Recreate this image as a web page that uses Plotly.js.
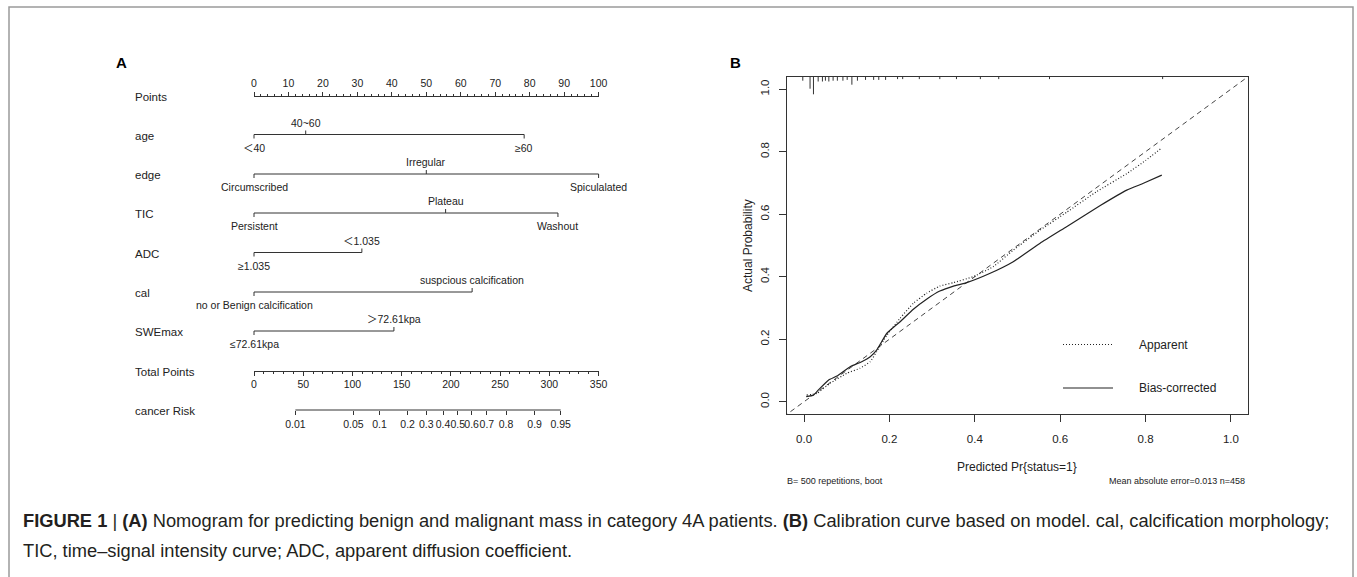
<!DOCTYPE html>
<html>
<head>
<meta charset="utf-8">
<script src="https://cdn.plot.ly/plotly-3.0.1.min.js"></script>
<style>html,body{margin:0;padding:0;background:#fff;}#chart{width:1357px;height:577px;}</style>
</head>
<body>
<div id="chart"></div>
<script>
// ---------------- DATA ----------------
// Nomogram (panel A)
const pointsTicks = [0, 10, 20, 30, 40, 50, 60, 70, 80, 90, 100];
const variableNames = ['age', 'edge', 'TIC', 'ADC', 'cal', 'SWEmax'];
const ageLabels = ['＜40', '40~60', '≥60'];
const agePoints = [0, 15, 78.4];
const edgeLabels = ['Circumscribed', 'Irregular', 'Spiculalated'];
const edgePoints = [0, 50, 100];
const ticLabels = ['Persistent', 'Plateau', 'Washout'];
const ticPoints = [0, 55.6, 88.2];
const adcLabels = ['≥1.035', '＜1.035'];
const adcPoints = [0, 31.3];
const calLabels = ['no or Benign calcification', 'suspcious calcification'];
const calPoints = [0, 63.3];
const sweLabels = ['≤72.61kpa', '＞72.61kpa'];
const swePoints = [0, 40.6];
const totalPointsTicks = [0, 50, 100, 150, 200, 250, 300, 350];
const riskLabels = ['0.01', '0.05', '0.1', '0.2', '0.3', '0.4', '0.5', '0.6', '0.7', '0.8', '0.9', '0.95'];
const riskTotalPoints = [42, 101, 127.5, 156, 175, 192, 207, 221, 236.5, 256, 285, 311.5];

// Calibration (panel B)
const apparentX = [0.006, 0.030, 0.061, 0.100, 0.131, 0.155, 0.170, 0.194, 0.225, 0.256, 0.287, 0.318, 0.350, 0.396, 0.443, 0.490, 0.553, 0.615, 0.685, 0.756, 0.800, 0.838];
const apparentY = [0.021, 0.027, 0.059, 0.091, 0.107, 0.128, 0.160, 0.213, 0.267, 0.315, 0.347, 0.370, 0.381, 0.400, 0.432, 0.485, 0.549, 0.606, 0.672, 0.730, 0.772, 0.812];
const biasX = [0.005, 0.022, 0.033, 0.057, 0.077, 0.108, 0.135, 0.155, 0.170, 0.194, 0.225, 0.256, 0.287, 0.318, 0.350, 0.381, 0.436, 0.490, 0.553, 0.615, 0.693, 0.756, 0.795, 0.838];
const biasY = [0.016, 0.021, 0.037, 0.069, 0.082, 0.112, 0.128, 0.144, 0.165, 0.219, 0.256, 0.296, 0.328, 0.354, 0.370, 0.381, 0.411, 0.448, 0.507, 0.560, 0.627, 0.677, 0.699, 0.725];
const rugX = [-0.003, 0.014, 0.022, 0.033, 0.043, 0.050, 0.058, 0.068, 0.078, 0.091, 0.101, 0.112, 0.125, 0.144, 0.163, 0.175, 0.191, 0.219, 0.231, 0.270, 0.318, 0.357, 0.413, 0.456, 0.575, 0.840];
const rugFreq = [1, 3, 4.4, 1.2, 1.2, 1, 1.2, 1, 1, 1, 0.8, 2, 1, 0.8, 0.8, 0.8, 0.8, 0.6, 0.6, 0.6, 0.6, 0.6, 0.6, 0.6, 0.6, 0.6];
const calTicks = [0, 0.2, 0.4, 0.6, 0.8, 1.0];

// ---------------- LAYOUT HELPERS ----------------
const W = 1357, H = 577;
const P0 = 254, P100 = 598.6;           // pixel x of 0 and 100 points
const ppp = (P100 - P0) / 100;          // pixels per point
const FONT = 'Liberation Sans, Arial, Noto Sans CJK SC, sans-serif';
const INK = '#222';
const LINE = '#333';
const px = v => v / W;
const py = v => 1 - v / H;

const rowY = {Points: 95.5, age: 134.5, edge: 174, TIC: 213, ADC: 252.5, cal: 292, SWEmax: 331, Total: 370.5, Risk: 410};
const varLabels = {age: ageLabels, edge: edgeLabels, TIC: ticLabels, ADC: adcLabels, cal: calLabels, SWEmax: sweLabels};
const varPoints = {age: agePoints, edge: edgePoints, TIC: ticPoints, ADC: adcPoints, cal: calPoints, SWEmax: swePoints};

const traces = [];
const annotations = [];
const shapes = [];

// nomogram variable rows
variableNames.forEach(name => {
  const pts = varPoints[name], labs = varLabels[name], y0 = rowY[name];
  const xs = [0, Math.max(...pts), null], ys = [y0, y0, null];
  pts.forEach((p, i) => {
    const above = i % 2 === 1;
    xs.push(p, p, null);
    ys.push(y0, y0 + (above ? -4 : 4), null);
    annotations.push({xref: 'x', yref: 'y', x: p, y: y0 + (above ? -12 : 13), text: labs[i], showarrow: false,
      xanchor: 'center', yanchor: 'middle', font: {family: FONT, size: 10.5, color: INK}});
  });
  traces.push({x: xs, y: ys, xaxis: 'x', yaxis: 'y', mode: 'lines', line: {color: LINE, width: 1}, hoverinfo: 'skip', showlegend: false});
});

// left row labels
const leftLabels = [['Points', rowY.Points], ['age', rowY.age], ['edge', rowY.edge], ['TIC', rowY.TIC], ['ADC', rowY.ADC],
  ['cal', rowY.cal], ['SWEmax', rowY.SWEmax], ['Total Points', rowY.Total], ['cancer Risk', rowY.Risk]];
leftLabels.forEach(([t, y]) => annotations.push({xref: 'paper', yref: 'y', x: px(133), y: y + 1, text: t, showarrow: false,
  xanchor: 'left', yanchor: 'middle', font: {family: FONT, size: 11.5, color: INK}}));

// dummy traces so the axis-only subplots exist
traces.push({x: [0, 100], y: [null, null], xaxis: 'x2', yaxis: 'y', mode: 'lines', hoverinfo: 'skip', showlegend: false});
traces.push({x: [0, 350], y: [null, null], xaxis: 'x3', yaxis: 'y', mode: 'lines', hoverinfo: 'skip', showlegend: false});
// risk axis line (only between first and last tick)
traces.push({x: [riskTotalPoints[0], riskTotalPoints[riskTotalPoints.length - 1]], y: [rowY.Risk, rowY.Risk], xaxis: 'x4', yaxis: 'y',
  mode: 'lines', line: {color: LINE, width: 1}, hoverinfo: 'skip', showlegend: false});

// calibration plot
traces.push({x: [-0.1, 1.1], y: [-0.1, 1.1], xaxis: 'x5', yaxis: 'y5', mode: 'lines',
  line: {color: '#444', width: 1, dash: '5px,4px'}, hoverinfo: 'skip', showlegend: false});
traces.push({x: apparentX, y: apparentY, xaxis: 'x5', yaxis: 'y5', mode: 'lines', name: 'Apparent',
  line: {color: INK, width: 1.2, dash: '1px,2px', shape: 'spline', smoothing: 0.4}, showlegend: false});
traces.push({x: biasX, y: biasY, xaxis: 'x5', yaxis: 'y5', mode: 'lines', name: 'Bias-corrected',
  line: {color: INK, width: 1.2, shape: 'spline', smoothing: 0.4}, showlegend: false});
const rx = [], ry = [];
const rugUnit = 4 / 312.5;
rugX.forEach((v, i) => { rx.push(v, v, null); ry.push(1.04, 1.04 - rugFreq[i] * rugUnit, null); });
traces.push({x: rx, y: ry, xaxis: 'x5', yaxis: 'y5', mode: 'lines', line: {color: LINE, width: 1}, hoverinfo: 'skip', showlegend: false});

// legend (drawn like R's legend)
shapes.push({type: 'line', xref: 'paper', yref: 'paper', x0: px(1063), x1: px(1112), y0: py(344.5), y1: py(344.5),
  line: {color: INK, width: 1.2, dash: '1px,2px'}});
shapes.push({type: 'line', xref: 'paper', yref: 'paper', x0: px(1063), x1: px(1113), y0: py(388), y1: py(388),
  line: {color: INK, width: 1.2}});
annotations.push({xref: 'paper', yref: 'paper', x: px(1137), y: py(345), text: 'Apparent', showarrow: false,
  xanchor: 'left', yanchor: 'middle', font: {family: FONT, size: 12, color: INK}});
annotations.push({xref: 'paper', yref: 'paper', x: px(1137), y: py(388), text: 'Bias-corrected', showarrow: false,
  xanchor: 'left', yanchor: 'middle', font: {family: FONT, size: 12, color: INK}});

// titles / notes for B
annotations.push({xref: 'paper', yref: 'paper', x: px(748), y: py(246), text: 'Actual Probability', textangle: -90, showarrow: false,
  xanchor: 'center', yanchor: 'middle', font: {family: FONT, size: 12, color: INK}});
annotations.push({xref: 'paper', yref: 'paper', x: px(1017), y: py(467), text: 'Predicted Pr{status=1}', showarrow: false,
  xanchor: 'center', yanchor: 'middle', font: {family: FONT, size: 12, color: INK}});
annotations.push({xref: 'paper', yref: 'paper', x: px(785), y: py(481), text: 'B= 500 repetitions, boot', showarrow: false,
  xanchor: 'left', yanchor: 'middle', font: {family: FONT, size: 9, color: INK}});
annotations.push({xref: 'paper', yref: 'paper', x: px(1247), y: py(481), text: 'Mean absolute error=0.013 n=458', showarrow: false,
  xanchor: 'right', yanchor: 'middle', font: {family: FONT, size: 9, color: INK}});

// panel letters
annotations.push({xref: 'paper', yref: 'paper', x: px(121), y: py(63), text: '<b>A</b>', showarrow: false,
  xanchor: 'center', yanchor: 'middle', font: {family: FONT, size: 15, color: '#000'}});
annotations.push({xref: 'paper', yref: 'paper', x: px(735), y: py(63), text: '<b>B</b>', showarrow: false,
  xanchor: 'center', yanchor: 'middle', font: {family: FONT, size: 15, color: '#000'}});

// caption
annotations.push({xref: 'paper', yref: 'paper', x: px(21), y: py(520), showarrow: false, xanchor: 'left', yanchor: 'middle',
  text: '<b>FIGURE 1</b> | <b>(A)</b> Nomogram for predicting benign and malignant mass in category 4A patients. <b>(B)</b> Calibration curve based on model. cal, calcification morphology;',
  font: {family: FONT, size: 18.3, color: '#231f20'}});
annotations.push({xref: 'paper', yref: 'paper', x: px(21), y: py(550), showarrow: false, xanchor: 'left', yanchor: 'middle',
  text: 'TIC, time–signal intensity curve; ADC, apparent diffusion coefficient.',
  font: {family: FONT, size: 18.3, color: '#231f20'}});

// outer frame
shapes.push({type: 'rect', xref: 'paper', yref: 'paper', x0: px(9), x1: px(1353), y0: py(620), y1: py(7),
  line: {color: '#9a9a9a', width: 1.5}, fillcolor: 'rgba(0,0,0,0)'});

const tickFont = {family: FONT, size: 10.5, color: INK};
const layout = {
  width: W, height: H,
  margin: {l: 0, r: 0, t: 0, b: 0, pad: 0},
  paper_bgcolor: '#fff', plot_bgcolor: 'rgba(0,0,0,0)',
  showlegend: false,
  xaxis: {domain: [0, 1], range: [-P0 / ppp, (W - P0) / ppp], visible: false, fixedrange: true},
  yaxis: {domain: [0, 1], range: [H, 0], visible: false, fixedrange: true},
  xaxis2: {domain: [px(P0), px(P100)], range: [0, 100], anchor: 'free', position: py(rowY.Points), side: 'top',
    tickmode: 'array', tickvals: pointsTicks, ticks: 'outside', ticklen: 4, tickcolor: LINE, showline: true, linecolor: LINE, linewidth: 1,
    minor: {dtick: 2, tick0: 0, ticks: 'outside', ticklen: 2, tickcolor: LINE}, showgrid: false, zeroline: false, tickfont: tickFont, tickangle: 0},
  xaxis3: {domain: [px(P0), px(P100)], range: [0, 350], anchor: 'free', position: py(rowY.Total), side: 'bottom',
    tickmode: 'array', tickvals: totalPointsTicks, ticks: 'outside', ticklen: 4, tickcolor: LINE, showline: true, linecolor: LINE, linewidth: 1,
    minor: {dtick: 10, tick0: 0, ticks: 'outside', ticklen: 2, tickcolor: LINE}, showgrid: false, zeroline: false, tickfont: tickFont, tickangle: 0},
  xaxis4: {domain: [px(P0), px(P100)], range: [0, 350], anchor: 'free', position: py(rowY.Risk), side: 'bottom',
    tickmode: 'array', tickvals: riskTotalPoints, ticktext: riskLabels, ticks: 'outside', ticklen: 4, tickcolor: LINE,
    showline: false, showgrid: false, zeroline: false, tickfont: tickFont, tickangle: 0},
  xaxis5: {domain: [px(787), px(1248)], range: [-0.04, 1.04], anchor: 'y5', tickmode: 'array', tickvals: calTicks, tickformat: '.1f',
    ticks: 'outside', ticklen: 7, tickcolor: LINE, showline: true, mirror: true, linecolor: LINE, linewidth: 1.2,
    showgrid: false, zeroline: false, ticklabelstandoff: 7, tickangle: 0, tickfont: {family: FONT, size: 11.5, color: INK}},
  yaxis5: {domain: [py(414.2), py(76.7)], range: [-0.04, 1.04], anchor: 'x5', tickmode: 'array', tickvals: calTicks, tickformat: '.1f',
    tickangle: -90, ticks: 'outside', ticklen: 7, tickcolor: LINE, showline: true, mirror: true, linecolor: LINE, linewidth: 1.2,
    showgrid: false, zeroline: false, ticklabelstandoff: 5, tickfont: {family: FONT, size: 11.5, color: INK}},
  annotations: annotations,
  shapes: shapes
};

Plotly.newPlot('chart', traces, layout, {staticPlot: true, displayModeBar: false});
</script>
</body>
</html>
